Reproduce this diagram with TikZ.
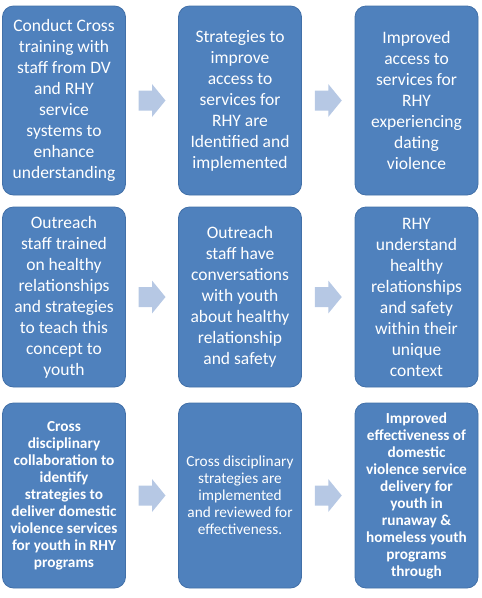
\documentclass[tikz,border=0pt]{standalone}
\usepackage{fontspec}
\setmainfont{Carlito}
\usetikzlibrary{calc}
\definecolor{boxc}{RGB}{79,129,189}
\definecolor{boxd}{RGB}{66,112,168}
\definecolor{arrc}{RGB}{182,200,228}
\newcommand{\blockarrow}[1]{%
  \fill[arrc] ([shift={(-13.5,-10)}]#1) -- ([shift={(0,-10)}]#1) -- ([shift={(0,-16.5)}]#1)
    -- ([shift={(13.5,0)}]#1) -- ([shift={(0,16.5)}]#1) -- ([shift={(0,10)}]#1)
    -- ([shift={(-13.5,10)}]#1) -- cycle;}
\begin{document}
\begin{tikzpicture}[x=1pt,y=-1pt,
  box/.style={draw=boxd, fill=boxc, line width=0.8pt, rounded corners=11pt,
    text=white, align=center, inner sep=0pt, minimum width=123},
  big/.style={font=\fontsize{17.5}{21}\selectfont},
  small/.style={font=\fontsize{15.3}{17}\selectfont},
  smallb/.style={font=\fontsize{15.3}{17}\selectfont\bfseries}]
\useasboundingbox (0,0) rectangle (482,598);
% row 1
\node[box, big, minimum height=189] (a1) at (64,100.5) {Conduct Cross\\training with\\staff from DV\\and RHY\\service\\systems to\\enhance\\understanding};
\node[box, big, minimum height=189] (a2) at (240,100.5) {Strategies to\\improve\\access to\\services for\\RHY are\\Identified and\\implemented};
\node[box, big, minimum height=189] (a3) at (416.5,100.5) {Improved\\access to\\services for\\RHY\\experiencing\\dating\\violence};
% row 2
\node[box, big, minimum height=180] (b1) at (64,297) {Outreach\\staff trained\\on healthy\\relationships\\and strategies\\to teach this\\concept to\\youth};
\node[box, big, minimum height=180] (b2) at (240,297) {Outreach\\staff have\\conversations\\with youth\\about healthy\\relationship\\and safety};
\node[box, big, minimum height=180] (b3) at (416.5,297) {RHY\\understand\\healthy\\relationships\\and safety\\within their\\unique\\context};
% row 3
\node[box, smallb, minimum height=185] (c1) at (64,495.5) {Cross\\disciplinary\\collaboration to\\identify\\strategies to\\deliver domestic\\violence services\\for youth in RHY\\programs};
\node[box, small, minimum height=185] (c2) at (240,495.5) {Cross disciplinary\\strategies are\\implemented\\and reviewed for\\effectiveness.};
\node[box, smallb, minimum height=185] (c3) at (416.5,495.5) {Improved\\effectiveness of\\domestic\\violence service\\delivery for\\youth in\\runaway \&\\homeless youth\\programs\\through};
% arrows
\foreach \p/\q in {a1/a2,a2/a3,b1/b2,b2/b3,c1/c2,c2/c3}{
  \coordinate (m\p) at ($(\p.east)!0.5!(\q.west)$);
  \blockarrow{m\p}
}
\end{tikzpicture}
\end{document}
